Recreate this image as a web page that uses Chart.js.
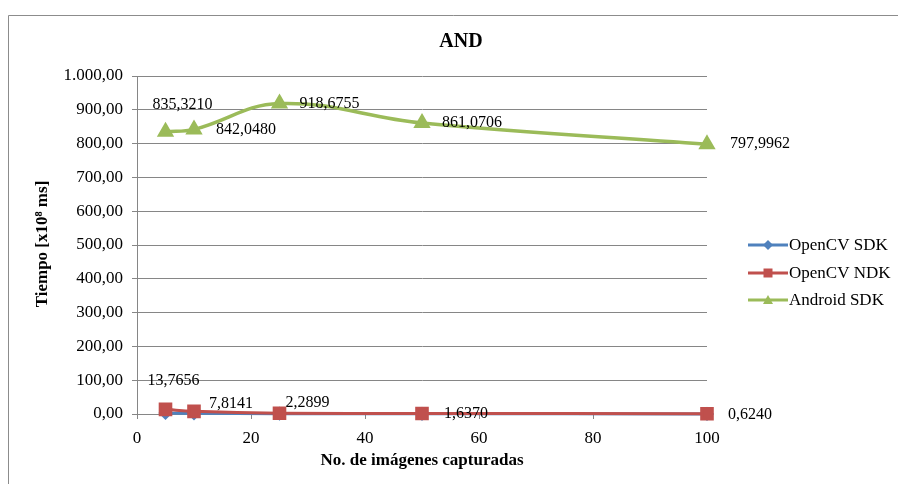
<!DOCTYPE html>
<html>
<head>
<meta charset="utf-8">
<script src="https://cdn.jsdelivr.net/npm/chart.js@4.4.1/dist/chart.umd.min.js"></script>
<style>
html,body{margin:0;padding:0;background:#fff;}
#wrap{position:relative;width:898px;height:484px;}
</style>
</head>
<body>
<div id="wrap"><canvas id="c" width="898" height="484"></canvas></div>
<script>
// ---- data ----
const images = [5, 10, 25, 50, 100];
const openCvSdk = [3.1, 2.0, 0.9, 0.6, 0.3];
const openCvNdk = [13.7656, 7.8141, 2.2899, 1.6370, 0.6240];
const androidSdk = [835.3210, 842.0480, 918.6755, 861.0706, 797.9962];
const seriesNames = ['OpenCV SDK', 'OpenCV NDK', 'Android SDK'];
const yTicks = [0, 100, 200, 300, 400, 500, 600, 700, 800, 900, 1000];
const xTicks = [0, 20, 40, 60, 80, 100];
const chartTitle = 'AND';
const xTitle = 'No. de imágenes capturadas';
const yTitle = 'Tiempo [x10\u2078 ms]';

const FONT = '"Liberation Serif", "Times New Roman", serif';

function fmt(v, d) {
  const parts = v.toFixed(d).split('.');
  parts[0] = parts[0].replace(/\B(?=(\d{3})+(?!\d))/g, '.');
  return parts.join(',');
}
const pts = arr => images.map((x, i) => ({x: x, y: arr[i]}));

// label offsets (pixels, left edge / vertical middle, relative to point)
const labelOffsets = {
  1: [[-18, -29], [15, -8], [6, -10], [22, 0], [21, 1]],
  2: [[-13, -27], [22, 0], [20, 0], [20, 0], [23, 0]]
};

const labelPlugin = {
  id: 'dataLabels',
  afterDatasetsDraw(chart) {
    const ctx = chart.ctx;
    ctx.save();
    ctx.font = '16px ' + FONT;
    ctx.fillStyle = '#000';
    ctx.textAlign = 'left';
    ctx.textBaseline = 'middle';
    [1, 2].forEach(di => {
      const meta = chart.getDatasetMeta(di);
      const vals = chart.data.datasets[di].data;
      meta.data.forEach((el, i) => {
        const off = labelOffsets[di][i];
        ctx.fillText(fmt(vals[i].y, 4), el.x + off[0], el.y + off[1]);
      });
    });
    ctx.restore();
  }
};

function drawMarker(ctx, style, x, y, r, color) {
  ctx.fillStyle = color;
  ctx.beginPath();
  if (style === 'rectRot') {
    ctx.moveTo(x, y - r); ctx.lineTo(x + r, y); ctx.lineTo(x, y + r); ctx.lineTo(x - r, y);
  } else if (style === 'rect') {
    ctx.rect(x - r, y - r, 2 * r, 2 * r);
  } else {
    ctx.moveTo(x, y - r); ctx.lineTo(x + r, y + r * 0.8); ctx.lineTo(x - r, y + r * 0.8);
  }
  ctx.closePath();
  ctx.fill();
}

const decorPlugin = {
  id: 'decor',
  beforeDraw(chart) {
    const ctx = chart.ctx;
    ctx.save();
    ctx.fillStyle = '#fff';
    ctx.fillRect(0, 0, chart.width, chart.height);
    ctx.strokeStyle = '#8c8c8c';
    ctx.lineWidth = 1;
    ctx.beginPath();
    ctx.moveTo(8.5, chart.height);
    ctx.lineTo(8.5, 15.5);
    ctx.lineTo(chart.width, 15.5);
    ctx.stroke();
    ctx.restore();
  },
  afterDraw(chart) {
    const ctx = chart.ctx;
    const a = chart.chartArea;
    ctx.save();
    ctx.fillStyle = '#000';
    // title
    ctx.font = 'bold 20px ' + FONT;
    ctx.textAlign = 'center';
    ctx.textBaseline = 'middle';
    ctx.fillText(chartTitle, 461, 42);
    // x title
    ctx.font = 'bold 17px ' + FONT;
    ctx.fillText(xTitle, (a.left + a.right) / 2, 461);
    // y title
    ctx.save();
    ctx.translate(43, 244);
    ctx.rotate(-Math.PI / 2);
    ctx.fillText(yTitle, 0, 0);
    ctx.restore();
    // legend
    ctx.font = '17px ' + FONT;
    ctx.textAlign = 'left';
    const ds = chart.data.datasets;
    const ly = [245, 273, 300];
    ds.forEach((d, i) => {
      ctx.strokeStyle = d.borderColor;
      ctx.lineWidth = 3;
      ctx.beginPath();
      ctx.moveTo(748, ly[i]);
      ctx.lineTo(788, ly[i]);
      ctx.stroke();
      drawMarker(ctx, d.pointStyle, 768, ly[i], d.pointStyle === 'rect' ? 4.5 : 5, d.borderColor);
      ctx.fillStyle = '#000';
      ctx.fillText(seriesNames[i], 789, ly[i] + 1);
    });
    ctx.restore();
  }
};

new Chart(document.getElementById('c'), {
  type: 'scatter',
  data: {
    datasets: [
      {label: seriesNames[0], data: pts(openCvSdk), showLine: true, borderColor: '#4F81BD', backgroundColor: '#4F81BD',
       borderWidth: 3, pointStyle: 'rectRot', pointRadius: 5, tension: 0.4, order: 3, clip: false},
      {label: seriesNames[1], data: pts(openCvNdk), showLine: true, borderColor: '#C0504D', backgroundColor: '#C0504D',
       borderWidth: 3, pointStyle: 'rect', pointRadius: 7.5, tension: 0.4, order: 2, clip: false},
      {label: seriesNames[2], data: pts(androidSdk), showLine: true, borderColor: '#9BBB59', backgroundColor: '#9BBB59',
       borderWidth: 3.5, pointStyle: 'triangle', pointRadius: 6.5, tension: 0.4, order: 1, clip: false}
    ]
  },
  options: {
    responsive: false,
    animation: false,
    devicePixelRatio: 1,
    layout: {padding: {left: 0, right: 191, top: 76, bottom: 0}},
    plugins: {legend: {display: false}, title: {display: false}, tooltip: {enabled: false}},
    scales: {
      x: {
        type: 'linear', min: 0, max: 100,
        afterBuildTicks(s) { s.ticks = xTicks.map(v => ({value: v})); },
        afterFit(s) { s.height = 70; },
        grid: {drawOnChartArea: false, drawTicks: true, tickLength: 5, color: '#868686'},
        border: {display: true, color: '#868686', width: 1},
        ticks: {font: {family: FONT, size: 17}, color: '#000', padding: 9, maxRotation: 0}
      },
      y: {
        min: 0, max: 1000,
        afterBuildTicks(s) { s.ticks = yTicks.map(v => ({value: v})); },
        afterFit(s) { s.width = 137; },
        grid: {drawTicks: true, tickLength: 5, color: '#868686'},
        border: {display: true, color: '#868686', width: 1},
        ticks: {font: {family: FONT, size: 17}, color: '#000', padding: 9, callback: v => fmt(v, 2)}
      }
    }
  },
  plugins: [decorPlugin, labelPlugin]
});
</script>
</body>
</html>
